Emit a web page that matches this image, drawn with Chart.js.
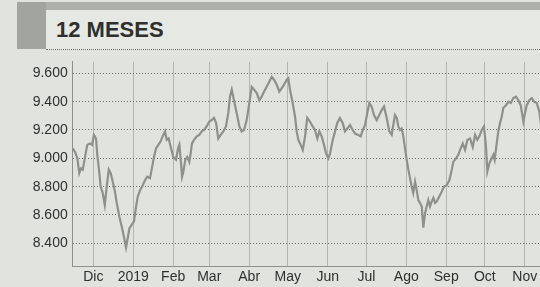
<!DOCTYPE html>
<html>
<head>
<meta charset="utf-8">
<script src="https://cdn.jsdelivr.net/npm/chart.js@4.4.1/dist/chart.umd.min.js"></script>
<style>
  html, body { margin: 0; padding: 0; }
  body { width: 540px; height: 287px; overflow: hidden; position: relative; background: #e1e4de; font-family: 'Liberation Sans', Arial, sans-serif; }
  .band { position: absolute; left: 17px; top: 2px; width: 523px; height: 8px; background: #aeb0ab; }
  .block { position: absolute; left: 17px; top: 2px; width: 29px; height: 47px; background: #a2a49f; }
  .head { position: absolute; left: 46px; top: 10px; width: 494px; height: 39px; background: #e6e8e3; border-bottom: 1px dotted #6d6f6b; }
  .title { position: absolute; left: 56px; top: 19px; font-size: 22px; line-height: 22px; font-weight: bold; color: #2f302e; }
  #wrap { position: absolute; left: 0; top: 0; width: 540px; height: 287px; }
</style>
</head>
<body>
<div class="band"></div>
<div class="block"></div>
<div class="head"></div>
<div class="title">12 MESES</div>
<div id="wrap"><canvas id="grafico" width="540" height="287"></canvas></div>
<script>
// dias desde el 1 de diciembre de 2018
const dias = [-16,-14.2,-12.4,-10.9,-9.5,-8.2,-6.4,-4.7,-2.6,-1,
  0.5,2.1,3.1,4.7,5.7,7.3,8.9,10.4,12,13.5,
  15.1,16.8,18.2,20.2,22,23.8,25.4,26.9,28,29.8,
  31.6,33.2,34.5,36.3,38.4,40.1,41.9,44,45.3,47.1,
  48.7,50.5,52.3,54.3,55.7,57,58.5,60.1,62.1,64.2,
  65.8,66.8,68.1,68.9,69.9,71.4,73,74.5,75.6,76.6,
  78.2,80.3,82.3,84.2,86,88,90.1,91.9,93.7,95.3,
  97,98.9,100.9,103,104.8,106.1,107.5,109.2,111.3,113.4,
  115.2,117,119.1,121.1,123,124.8,126.9,128.9,130.7,132.5,
  134.6,136.6,138.5,140.3,142.4,144.4,146.3,148.1,150.2,151.4,
  152.7,154.8,156.6,157.9,159.2,161,162.6,164.4,166.1,168.2,
  170.3,172.1,173.9,175.5,177.3,179.1,180.7,182.5,183.8,185.9,
  187.7,189.4,191.5,193.6,195.4,197.2,199.3,201.4,203.2,205.7,
  207.6,209.2,211,212.7,214.3,216.1,217.9,220,222,223.9,
  225.7,227.8,229.8,231.7,232.9,234.2,235.6,236.8,238.1,239.4,
  240.7,242,243.3,244.6,245.9,247.2,248.4,249.8,251.1,252.3,
  253.7,255,256.2,257.5,258.8,260.1,261.4,262.7,264,265.3,
  266.6,268.6,270.5,272.3,274.4,276.4,278.3,279.5,281.6,283.4,
  285.2,286.8,288.6,290.4,292.5,294.6,296.4,298.1,299.7,301.6,
  303.3,304.9,305.9,307.5,309.3,310.6,311.6,313.2,314.4,315.8,
  317.1,318.3,320.4,322.2,324.1,326.1,328.2,330,331.8,333.9,
  335.2,336.5,338.5,340.4,342.2,344.3,346.3,348.4];

const valores = [9070,9045,9000,8895,8930,8920,9010,9095,9105,9095,
  9165,9140,9025,8895,8800,8755,8670,8800,8920,8895,
  8835,8765,8685,8590,8520,8445,8370,8445,8505,8530,
  8555,8660,8730,8775,8810,8845,8870,8860,8920,9010,
  9070,9095,9120,9165,9190,9130,9140,9080,9010,8990,
  9070,9095,8965,8870,8905,8990,9010,8975,9035,9105,
  9130,9155,9165,9190,9200,9225,9260,9270,9285,9250,
  9140,9165,9190,9225,9320,9435,9485,9410,9320,9225,
  9190,9200,9270,9390,9505,9485,9460,9410,9435,9470,
  9505,9540,9575,9555,9520,9470,9495,9520,9555,9565,
  9485,9390,9295,9190,9130,9095,9060,9155,9285,9260,
  9225,9200,9140,9190,9155,9095,9035,9000,9035,9130,
  9190,9250,9285,9250,9190,9210,9235,9200,9175,9165,
  9155,9200,9235,9320,9390,9365,9305,9270,9305,9340,
  9365,9285,9190,9165,9235,9305,9285,9225,9200,9210,
  9155,9070,8990,8920,8860,8800,8755,8835,8775,8705,
  8685,8660,8510,8610,8660,8705,8660,8695,8720,8685,
  8695,8730,8765,8800,8810,8845,8920,8975,9000,9025,
  9070,9105,9060,9130,9140,9080,9165,9130,9155,9200,
  9225,9080,8905,8965,9000,9025,8990,9105,9190,9250,
  9295,9355,9375,9400,9390,9425,9435,9410,9375,9260,
  9320,9375,9410,9425,9400,9390,9330,9180];

const mesesDias = [0,31,62,90,121,151,182,212,243,274,304,335];
const mesesEtiquetas = ['Dic','2019','Feb','Mar','Abr','May','Jun','Jul','Ago','Sep','Oct','Nov'];
const ticksY = [8400,8600,8800,9000,9200,9400,9600];

const fuente = { family: "'Liberation Sans', Arial, sans-serif", size: 14 };

new Chart(document.getElementById('grafico').getContext('2d'), {
  type: 'line',
  data: {
    datasets: [{
      data: dias.map((d, i) => ({ x: d, y: valores[i] })),
      borderColor: '#8e908c',
      borderWidth: 2.2,
      pointRadius: 0,
      tension: 0
    }]
  },
  options: {
    responsive: false,
    animation: false,
    layout: { padding: { top: 61.7, left: 0, right: 0, bottom: 0 } },
    plugins: { legend: { display: false }, tooltip: { enabled: false } },
    scales: {
      x: {
        type: 'linear',
        min: -16,
        max: 346.8,
        afterFit: s => { s.height = 20.3; },
        afterBuildTicks: s => { s.ticks = mesesDias.map(v => ({ value: v })); },
        ticks: {
          autoSkip: false,
          maxRotation: 0,
          padding: 2,
          color: '#2f302e',
          font: fuente,
          callback: v => mesesEtiquetas[mesesDias.indexOf(v)]
        },
        grid: { color: '#b4b7b1', lineWidth: 1, drawTicks: false },
        border: { display: true, color: '#8e908c', width: 1 }
      },
      y: {
        min: 8235,
        max: 9682,
        afterFit: s => { s.width = 72.7; },
        afterBuildTicks: s => { s.ticks = ticksY.map(v => ({ value: v })); },
        ticks: {
          padding: 5,
          color: '#2f302e',
          font: fuente,
          callback: v => Math.floor(v / 1000) + '.' + String(v % 1000).padStart(3, '0')
        },
        // lineas horizontales punteadas
        grid: { color: '#6c6e6a', lineWidth: 1, drawTicks: false },
        border: { display: true, color: '#8e908c', width: 1, dash: [1, 2] }
      }
    }
  }
});
</script>
</body>
</html>
